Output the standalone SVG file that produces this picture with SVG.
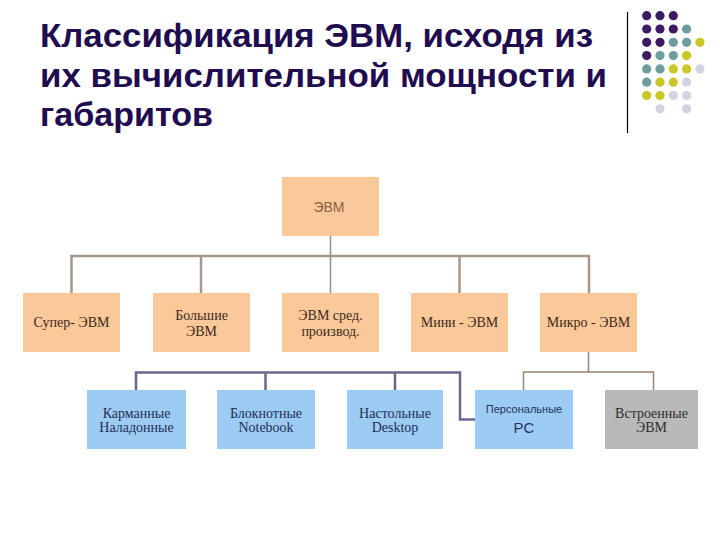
<svg xmlns="http://www.w3.org/2000/svg" width="720" height="540" viewBox="0 0 720 540">
<style>
.title{font-family:"Liberation Sans",Arial,sans-serif;font-weight:bold;font-size:33px;fill:#200c4f}
.ob{fill:#fbc899}
.bb{fill:#9ccbf3}
.gb{fill:#b9b9b9}
.t{font-family:"Liberation Serif","Times New Roman",serif;font-size:14px;text-anchor:middle}
.to{fill:#3d2a1e}
.tb{fill:#1f2f55}
.ts{font-family:"Liberation Sans",Arial,sans-serif;font-size:14px;text-anchor:middle}
.c1{fill:none;stroke:#a8968a;stroke-width:2.5}
.c2{fill:none;stroke:#8f8f8f;stroke-width:1.5}
.c3{fill:none;stroke:#6b6690;stroke-width:2.5}
.c4{fill:none;stroke:#9b8373;stroke-width:1.5}
.p{fill:#3c1b62}.q{fill:#6f9d9d}.y{fill:#c9c628}.l{fill:#d2d3e2}
</style>
<rect width="720" height="540" fill="#ffffff"/>
<g id="title">
<text class="title" x="40" y="47" textLength="553" lengthAdjust="spacingAndGlyphs">Классификация ЭВМ, исходя из</text>
<text class="title" x="40" y="87" textLength="567" lengthAdjust="spacingAndGlyphs">их вычислительной мощности и</text>
<text class="title" x="40" y="126" textLength="173" lengthAdjust="spacingAndGlyphs">габаритов</text>
</g>
<g id="decor">
<line x1="627.5" y1="12" x2="627.5" y2="133" stroke="#000" stroke-width="1.2"/>
<circle class="p" cx="646.7" cy="15.7" r="4.6"/><circle class="p" cx="660" cy="15.7" r="4.6"/><circle class="p" cx="673.3" cy="15.7" r="4.6"/>
<circle class="p" cx="646.7" cy="29" r="4.6"/><circle class="p" cx="660" cy="29" r="4.6"/><circle class="p" cx="673.3" cy="29" r="4.6"/><circle class="q" cx="686.6" cy="29" r="4.6"/>
<circle class="p" cx="646.7" cy="42.3" r="4.6"/><circle class="p" cx="660" cy="42.3" r="4.6"/><circle class="q" cx="673.3" cy="42.3" r="4.6"/><circle class="q" cx="686.6" cy="42.3" r="4.6"/><circle class="y" cx="699.9" cy="42.3" r="4.6"/>
<circle class="p" cx="646.7" cy="55.6" r="4.6"/><circle class="q" cx="660" cy="55.6" r="4.6"/><circle class="q" cx="673.3" cy="55.6" r="4.6"/><circle class="y" cx="686.6" cy="55.6" r="4.6"/>
<circle class="q" cx="646.7" cy="68.9" r="4.6"/><circle class="q" cx="660" cy="68.9" r="4.6"/><circle class="y" cx="673.3" cy="68.9" r="4.6"/><circle class="y" cx="686.6" cy="68.9" r="4.6"/><circle class="l" cx="699.9" cy="68.9" r="4.6"/>
<circle class="q" cx="646.7" cy="82.2" r="4.6"/><circle class="y" cx="660" cy="82.2" r="4.6"/><circle class="y" cx="673.3" cy="82.2" r="4.6"/><circle class="l" cx="686.6" cy="82.2" r="4.6"/>
<circle class="y" cx="646.7" cy="95.5" r="4.6"/><circle class="y" cx="660" cy="95.5" r="4.6"/><circle class="l" cx="673.3" cy="95.5" r="4.6"/><circle class="l" cx="686.6" cy="95.5" r="4.6"/>
<circle class="l" cx="660" cy="108.8" r="4.6"/><circle class="l" cx="686.6" cy="108.8" r="4.6"/>
</g>
<g id="connectors">
<path class="c1" d="M71.5,293 V256 H589 V293 M201,256 V293 M459.5,256 V293"/>
<path class="c2" d="M330.5,236 V293"/>
<path class="c3" d="M136,390 V372.5 H460 V419.5 H475 M265.5,372.5 V390 M395,372.5 V390"/>
<path class="c4" d="M588.5,352 V372 M523.5,390 V372 H653.5 V390"/>
</g>
<g id="n-evm"><rect class="ob" x="282" y="177" width="97" height="59"/><text class="ts" x="329" y="211.5" fill="#8c6246">ЭВМ</text></g>
<g id="n-super"><rect class="ob" x="23" y="293" width="97" height="59"/><text class="t to" x="71.5" y="326.5">Супер- ЭВМ</text></g>
<g id="n-big"><rect class="ob" x="153" y="293" width="97" height="59"/><text class="t to" x="201.5" y="320">Большие</text><text class="t to" x="201.5" y="336">ЭВМ</text></g>
<g id="n-mid"><rect class="ob" x="282" y="293" width="97" height="59"/><text class="t to" x="330.5" y="320">ЭВМ сред.</text><text class="t to" x="330.5" y="336">производ.</text></g>
<g id="n-mini"><rect class="ob" x="411" y="293" width="97" height="59"/><text class="t to" x="459.5" y="326.5">Мини - ЭВМ</text></g>
<g id="n-micro"><rect class="ob" x="540" y="293" width="97" height="59"/><text class="t to" x="588.5" y="326.5">Микро - ЭВМ</text></g>
<g id="n-pocket"><rect class="bb" x="87" y="390" width="99" height="59"/><text class="t tb" x="136.5" y="417.5">Карманные</text><text class="t tb" x="136.5" y="432">Наладонные</text></g>
<g id="n-notebook"><rect class="bb" x="217" y="390" width="98" height="59"/><text class="t tb" x="266" y="417.5">Блокнотные</text><text class="t tb" x="266" y="432">Notebook</text></g>
<g id="n-desktop"><rect class="bb" x="347" y="390" width="96" height="59"/><text class="t tb" x="395" y="417.5">Настольные</text><text class="t tb" x="395" y="432">Desktop</text></g>
<g id="n-pc"><rect class="bb" x="475" y="390" width="98" height="59"/><text class="ts" x="524" y="413" fill="#27335a" style="font-size:11px">Персональные</text><text class="ts" x="524" y="432.5" fill="#27335a" style="font-size:15px">PC</text></g>
<g id="n-embedded"><rect class="gb" x="605" y="390" width="93" height="59"/><text class="t" x="651.5" y="417.5" fill="#2e2e2e">Встроенные</text><text class="t" x="651.5" y="432" fill="#2e2e2e">ЭВМ</text></g>
</svg>
